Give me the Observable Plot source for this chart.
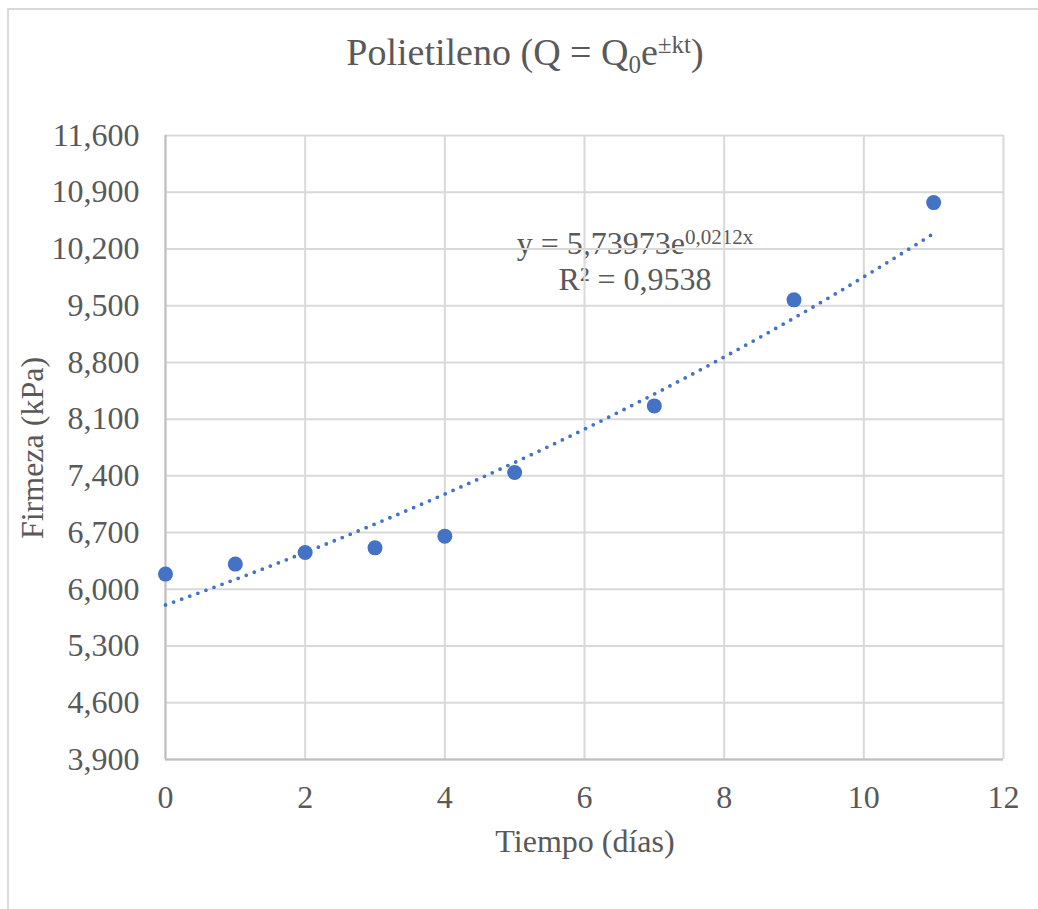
<!DOCTYPE html>
<html>
<head>
<meta charset="utf-8">
<script src="https://cdn.jsdelivr.net/npm/d3@7"></script>
<script src="https://cdn.jsdelivr.net/npm/@observablehq/plot@0.6"></script>
<style>
  html, body { margin: 0; padding: 0; background: #fff; overflow: hidden; }
  #chart { position: relative; width: 1038px; height: 909px; font-family: "Liberation Serif", "Times New Roman", serif; color: #595959; }
  #chart svg { position: absolute; left: 0; top: 0; }
  .frame { position: absolute; left: 7px; top: 8px; width: 1100px; height: 1000px; border-left: 2px solid #d9d9d9; border-top: 2px solid #d9d9d9; box-sizing: border-box; }
  .title { position: absolute; left: 0; top: 33px; width: 1050px; text-align: center; font-size: 38px; line-height: 38px; white-space: nowrap; }
  .title .lo { font-size: 25px; line-height: 0; vertical-align: -8px; }
  .title .hi { font-size: 25px; line-height: 0; vertical-align: 12px; }
  .eq { position: absolute; left: 335px; width: 600px; text-align: center; font-size: 32px; line-height: 32px; white-space: nowrap; }
  .eq .hi { font-size: 21px; line-height: 0; vertical-align: 10px; }
  .xlabel { position: absolute; left: 385px; top: 825px; width: 400px; text-align: center; font-size: 32px; line-height: 32px; white-space: nowrap; }
  .ylabel { position: absolute; left: -168px; top: 432px; width: 400px; height: 32px; text-align: center; font-size: 32px; line-height: 32px; white-space: nowrap; transform: rotate(-90deg); }
</style>
</head>
<body>
<div id="chart">
  <div class="frame"></div>
  <div class="title">Polietileno (Q = Q<span class="lo">0</span>e<span class="hi">±kt</span>)</div>
  <div class="eq" style="top:227px">y = 5,73973e<span class="hi">0,0212x</span></div>
  <div class="eq" style="top:263px">R² = 0,9538</div>
  <div class="xlabel">Tiempo (días)</div>
  <div class="ylabel">Firmeza (kPa)</div>
</div>
<script>
// Firmness of polyethylene-wrapped samples over storage time
const days = [0, 1, 2, 3, 4, 5, 7, 9, 11];
const firmness = [6.188, 6.311, 6.454, 6.512, 6.656, 7.442, 8.263, 9.572, 10.772];

const xTicks = [0, 2, 4, 6, 8, 10, 12];
const yTicks = [3.9, 4.6, 5.3, 6.0, 6.7, 7.4, 8.1, 8.8, 9.5, 10.2, 10.9, 11.6];

const points = days.map((d, i) => ({day: d, firmness: firmness[i]}));

// Exponential trendline: least squares on ln(y), y = a·e^(k·x)
const mx = d3.mean(days);
const my = d3.mean(firmness, v => Math.log(v));
const k = d3.sum(days, (d, i) => (d - mx) * (Math.log(firmness[i]) - my)) / d3.sum(days, d => (d - mx) ** 2);
const a = Math.exp(my - k * mx);
const xMax = d3.max(days);
const trend = d3.range(0, xMax * 20 + 1).map(i => i / 20).map(t => ({day: t, firmness: a * Math.exp(k * t)}));

// Spanish decimal comma with three decimals, e.g. 11,600
const fmt = v => v.toFixed(3).replace(".", ",");

const grid = {stroke: "#d9d9d9", strokeOpacity: 1, strokeWidth: 2};
const edge = {stroke: "#bfbfbf", strokeOpacity: 1, strokeWidth: 2};

const plot = Plot.plot({
  width: 1038,
  height: 909,
  marginLeft: 165,
  marginRight: 35,
  marginTop: 135,
  marginBottom: 150,
  style: {fontFamily: "'Liberation Serif', 'Times New Roman', serif", fontSize: "32px", color: "#595959", background: "transparent", overflow: "visible"},
  x: {domain: [0, 12]},
  y: {domain: [3.9, 11.6]},
  marks: [
    Plot.gridX(xTicks, grid),
    Plot.gridY(yTicks, grid),
    Plot.ruleX([0], edge),
    Plot.ruleY([3.9], edge),
    Plot.axisX(xTicks, {tickSize: 0, tickPadding: 26, label: null}),
    Plot.axisY(yTicks, {tickSize: 0, tickPadding: 26, tickFormat: fmt, label: null}),
    Plot.line(trend, {x: "day", y: "firmness", stroke: "#4472C4", strokeWidth: 3.8, strokeDasharray: "0,8.6", strokeLinecap: "round"}),
    Plot.dot(points, {x: "day", y: "firmness", r: 7.5, fill: "#4472C4"})
  ]
});

document.getElementById("chart").appendChild(plot);
</script>
</body>
</html>
